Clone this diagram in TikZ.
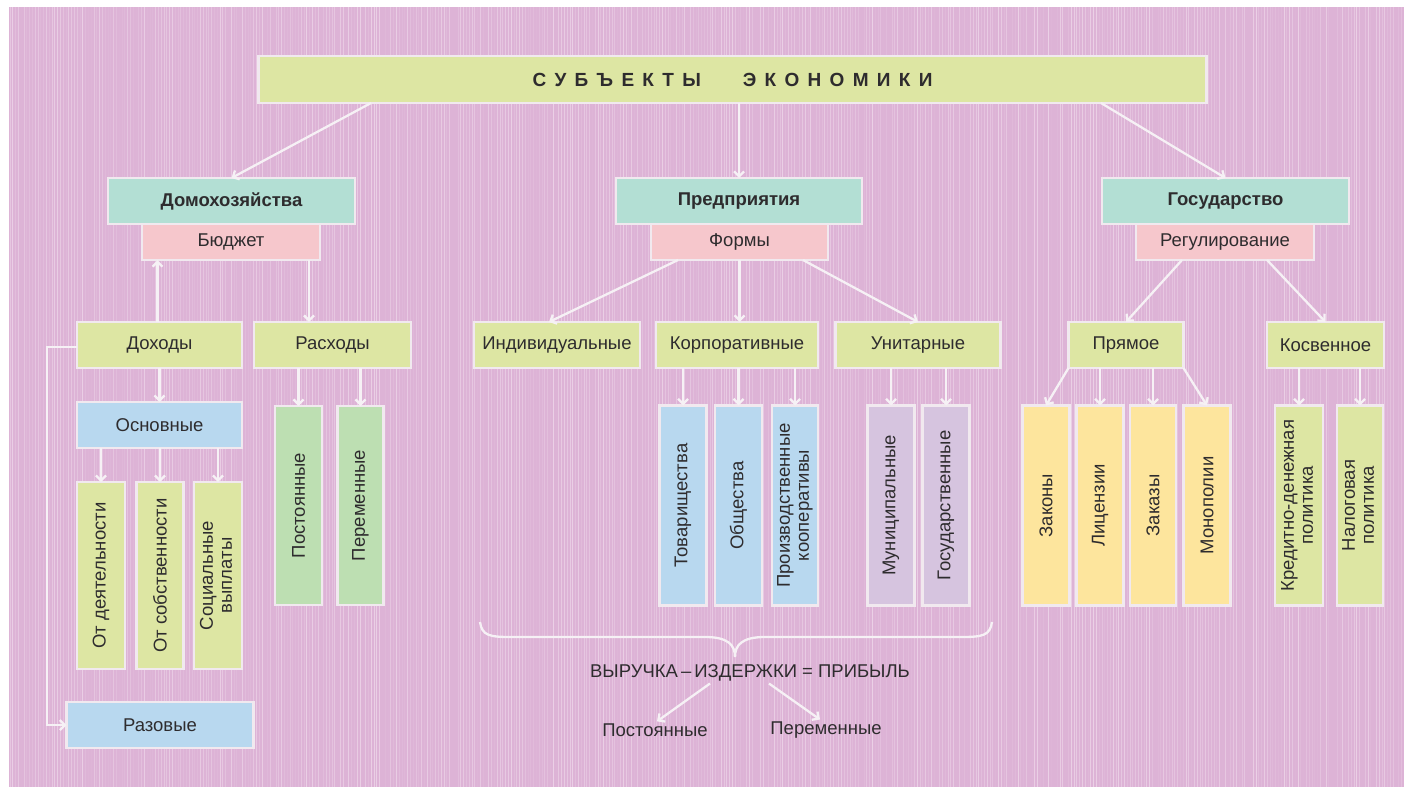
\documentclass[tikz,border=0pt]{standalone}
\usepackage{fontspec}
\usepackage{graphicx}
\setmainfont{Liberation Sans}
\usetikzlibrary{arrows.meta}
\definecolor{bgpink}{HTML}{DDB3D6}
\definecolor{stripec}{HTML}{ECD2E7}
\definecolor{edgec}{HTML}{F1E9EF}
\definecolor{arrowc}{HTML}{F6F1F5}
\definecolor{ygreen}{HTML}{DDE6A3}
\definecolor{tealc}{HTML}{B3DFD4}
\definecolor{rosec}{HTML}{F6C7CC}
\definecolor{skyc}{HTML}{B8D8EF}
\definecolor{mintc}{HTML}{BDDFB2}
\definecolor{lavc}{HTML}{D6C4DF}
\definecolor{sandc}{HTML}{FDE59D}
\definecolor{ink}{HTML}{2E2C2E}
\begin{document}
\begin{tikzpicture}[x=1pt,y=-1pt,
  box/.style={draw=edgec, line width=2.6pt, inner sep=0pt, outer sep=0pt, text=ink,
    font=\fontsize{18.5}{22}\selectfont, align=center},
  hd/.style={box, fill=tealc, font=\bfseries\fontsize{18.5}{22}\selectfont},
  sub/.style={box, fill=rosec},
  yg/.style={box, fill=ygreen},
  sk/.style={box, fill=skyc},
  mn/.style={box, fill=mintc},
  lv/.style={box, fill=lavc},
  sd/.style={box, fill=sandc},
  wide/.style={minimum height=46pt},
  tall/.style={minimum width=47pt, minimum height=200pt},
  plain/.style={text=ink, font=\fontsize{18.5}{22}\selectfont, inner sep=2pt},
  arr/.style={draw=arrowc, line width=2.3pt, -{Straight Barb[length=5pt,width=10pt]}},
  brc/.style={draw=arrowc, line width=2.3pt},
]
\useasboundingbox (0,0) rectangle (1404,787);
\fill[white] (0,0) rectangle (1404,787);
\fill[bgpink] (9,7) rectangle (1404,787);
\pgfmathsetseed{11}
\foreach \i in {0,...,497}{
  \pgfmathsetmacro\xx{10+\i*2.8}
  \pgfmathsetmacro\op{rnd*0.95}
  \draw[stripec, line width=0.9pt, opacity=\op] (\xx,7) -- (\xx,787);
}

% title
\node[box, fill=ygreen, minimum width=948pt, minimum height=47pt,
  font=\bfseries\fontsize{19}{21}\selectfont] (title) at (732.5,79.5)
  {С\kern8.3pt У\kern8.3pt Б\kern8.3pt Ъ\kern8.3pt Е\kern8.3pt К\kern8.3pt Т\kern8.3pt Ы\kern42pt Э\kern8.3pt К\kern8.3pt О\kern8.3pt Н\kern8.3pt О\kern8.3pt М\kern8.3pt И\kern8.3pt К\kern8.3pt И};

% level 1
\node[hd, minimum width=247pt, minimum height=46pt] (dom) at (231.5,201) {Домохозяйства};
\node[sub, minimum width=178pt, minimum height=36pt] (budget) at (231,242) {Бюджет};
\node[hd, minimum width=246pt, minimum height=46pt] (pred) at (739,201) {Предприятия};
\node[sub, minimum width=177pt, minimum height=36pt] (forms) at (739.5,242) {Формы};
\node[hd, minimum width=247pt, minimum height=46pt] (gos) at (1225.5,201) {Государство};
\node[sub, minimum width=178pt, minimum height=36pt] (reg) at (1225,242) {Регулирование};

% households
\node[yg, wide, minimum width=165pt] (dohody) at (159.5,345) {Доходы};
\node[yg, wide, minimum width=157pt] (rashody) at (332.5,345) {Расходы};
\node[sk, minimum width=165pt, minimum height=46pt] (osn) at (159.5,425) {Основные};
\node[yg, minimum width=48pt, minimum height=187pt] (od1) at (101,575.5) {\rotatebox{90}{От деятельности}};
\node[yg, minimum width=47pt, minimum height=187pt] (od2) at (160,575.5) {\rotatebox{90}{От собственности}};
\node[yg, minimum width=48pt, minimum height=187pt] (od3) at (218,575.5)
  {\rotatebox{90}{\begin{tabular}{@{}c@{}}Социальные\\[-3pt]выплаты\end{tabular}}};
\node[mn, minimum width=47pt, minimum height=199pt] (post) at (298.5,505.5) {\rotatebox{90}{Постоянные}};
\node[mn, minimum width=46pt, minimum height=199pt] (perem) at (360.5,505.5) {\rotatebox{90}{Переменные}};
\node[sk, wide, minimum width=187pt] (razov) at (160,725) {Разовые};

% enterprises
\node[yg, wide, minimum width=166pt] (indiv) at (557,345) {Индивидуальные};
\node[yg, wide, minimum width=162pt] (korp) at (737,345) {Корпоративные};
\node[yg, wide, minimum width=165pt] (unit) at (918,345) {Унитарные};
\node[sk, tall] (tov) at (683,505.5) {\rotatebox{90}{Товарищества}};
\node[sk, tall] (obsh) at (738.5,505.5) {\rotatebox{90}{Общества}};
\node[sk, tall, minimum width=46pt] (proizv) at (795,505.5)
  {\rotatebox{90}{\begin{tabular}{@{}c@{}}Производственные\\[-3pt]кооперативы\end{tabular}}};
\node[lv, tall] (mun) at (891,505.5) {\rotatebox{90}{Муниципальные}};
\node[lv, tall] (gosud) at (946,505.5) {\rotatebox{90}{Государственные}};

% state
\node[yg, wide, minimum width=115pt] (pryam) at (1126,345) {Прямое};
\node[yg, wide, minimum width=117pt] (kosv) at (1325.5,345) {Косвенное};
\node[sd, tall] (zak) at (1046,505.5) {\rotatebox{90}{Законы}};
\node[sd, tall] (lic) at (1100,505.5) {\rotatebox{90}{Лицензии}};
\node[sd, tall, minimum width=46pt] (zakaz) at (1153,505.5) {\rotatebox{90}{Заказы}};
\node[sd, tall] (mono) at (1207,505.5) {\rotatebox{90}{Монополии}};
\node[yg, tall, minimum width=48pt] (kred) at (1299,505.5)
  {\rotatebox{90}{\begin{tabular}{@{}c@{}}Кредитно-денежная\\[-3pt]политика\end{tabular}}};
\node[yg, tall, minimum width=46pt] (nalog) at (1360,505.5)
  {\rotatebox{90}{\begin{tabular}{@{}c@{}}Налоговая\\[-3pt]политика\end{tabular}}};

% profit formula
\node[plain] (formula) at (750,673) {ВЫРУЧКА\,–\,ИЗДЕРЖКИ = ПРИБЫЛЬ};
\node[plain] (fpost) at (655,730) {Постоянные};
\node[plain] (fperem) at (826,730) {Переменные};

% connectors from title
\draw[arr] ([xshift=-361.5pt]title.south) -- (dom.north);
\draw[arr] (title.south -| pred.north) -- (pred.north);
\draw[arr] ([xshift=368.5pt]title.south) -- (gos.north);

% households connectors
\coordinate (u1) at ([xshift=-2pt]dohody.north);
\draw[arr] (u1) -- (u1 |- budget.south);
\coordinate (d1) at ([xshift=-11pt]budget.south east);
\draw[arr] (d1) -- (d1 |- rashody.north);
\draw[arr] (dohody.south) -- (osn.north);
\draw[arr] (osn.south -| od1.north) -- (od1.north);
\draw[arr] (osn.south -| od2.north) -- (od2.north);
\draw[arr] (osn.south -| od3.north) -- (od3.north);
\draw[arr] (rashody.south -| post.north) -- (post.north);
\draw[arr] (rashody.south -| perem.north) -- (perem.north);
\draw[arr] ([yshift=-2pt]dohody.west) -- ++(-30,0) |- (razov.west);

% enterprises connectors
\draw[arr] ([xshift=-61.5pt]forms.south) -- ([xshift=-8pt]indiv.north);
\draw[arr] (forms.south) -- (forms.south |- korp.north);
\draw[arr] ([xshift=63.5pt]forms.south) -- (unit.north);
\draw[arr] (korp.south -| tov.north) -- (tov.north);
\draw[arr] (korp.south -| obsh.north) -- (obsh.north);
\draw[arr] (korp.south -| proizv.north) -- (proizv.north);
\draw[arr] (unit.south -| mun.north) -- (mun.north);
\draw[arr] (unit.south -| gosud.north) -- (gosud.north);

% state connectors
\draw[arr] ([xshift=-43pt]reg.south) -- (pryam.north);
\draw[arr] ([xshift=42pt]reg.south) -- (kosv.north);
\draw[arr] (pryam.south west) -- (zak.north);
\draw[arr] (pryam.south -| lic.north) -- (lic.north);
\draw[arr] (pryam.south -| zakaz.north) -- (zakaz.north);
\draw[arr] (pryam.south east) -- (mono.north);
\draw[arr] (kosv.south -| kred.north) -- (kred.north);
\draw[arr] (kosv.south -| nalog.north) -- (nalog.north);

% brace
\draw[brc] (480,622) .. controls (482,636) and (490,637) .. (512,637) -- (705,637)
  .. controls (728,637) and (735,645) .. (735,657);
\draw[brc] (992,622) .. controls (990,636) and (982,637) .. (960,637) -- (765,637)
  .. controls (742,637) and (735,645) .. (735,657);

% formula arrows
\draw[arr] ([xshift=-40pt]formula.south) -- ([xshift=2pt]fpost.north);
\draw[arr] ([xshift=19pt]formula.south) -- ([xshift=-6pt]fperem.north);
\end{tikzpicture}
\end{document}
